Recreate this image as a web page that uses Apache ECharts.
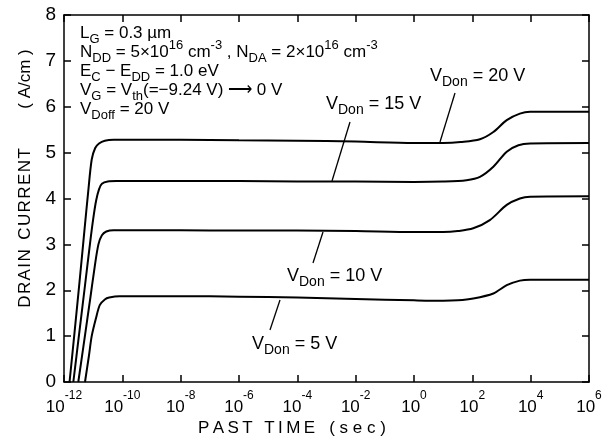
<!DOCTYPE html>
<html>
<head>
<meta charset="utf-8">
<script src="https://cdn.jsdelivr.net/npm/echarts@6/dist/echarts.min.js"></script>
<style>
  html, body { margin: 0; background: #fff; }
  #chart { width: 613px; height: 447px; }
</style>
</head>
<body>
<div id="chart"></div>
<script>
// x = log10(past time / s), y = drain current (A/cm)
const t5  = [-11.28, -11.15, -11.05, -10.9, -10.77, -10.6, -10.45, -10.1, -8, -6, -4, -2, 0, 1, 1.5, 2.03, 2.72, 3.18, 3.63, 3.98, 6]
const i5  = [0, 0.55, 1.0, 1.4, 1.68, 1.8, 1.84, 1.87, 1.87, 1.86, 1.84, 1.81, 1.78, 1.77, 1.78, 1.82, 1.93, 2.11, 2.21, 2.23, 2.23]
const t10 = [-11.51, -11.3, -11.1, -10.95, -10.82, -10.7, -10.55, -10.3, -10, -8, -6, -4, -2, 0, 1, 1.5, 2.03, 2.6, 3.18, 3.63, 3.98, 6]
const i10 = [0, 0.93, 1.82, 2.5, 3.0, 3.2, 3.28, 3.31, 3.31, 3.31, 3.3, 3.3, 3.29, 3.27, 3.27, 3.29, 3.35, 3.53, 3.86, 4.0, 4.04, 4.05]
const t15 = [-11.68, -11.5, -11.3, -11.1, -11.0, -10.9, -10.8, -10.7, -10.5, -10.2, -8, -6, -4, -2, 0, 1, 1.8, 2.26, 2.72, 3.18, 3.58, 3.98, 6]
const i15 = [0, 0.95, 2.0, 3.06, 3.55, 3.95, 4.2, 4.32, 4.37, 4.38, 4.38, 4.38, 4.37, 4.37, 4.36, 4.37, 4.4, 4.47, 4.69, 5.02, 5.16, 5.2, 5.21]
const t20 = [-11.81, -11.62, -11.45, -11.3, -11.17, -11.05, -10.93, -10.8, -10.6, -10.3, -8, -6, -4, -2, 0, 1, 1.6, 2.26, 2.72, 3.18, 3.63, 3.98, 6]
const i20 = [0, 1.2, 2.3, 3.3, 4.15, 4.85, 5.1, 5.2, 5.26, 5.28, 5.28, 5.27, 5.26, 5.24, 5.21, 5.21, 5.23, 5.29, 5.45, 5.71, 5.85, 5.89, 5.89]

const xTicks = [-12, -10, -8, -6, -4, -2, 0, 2, 4, 6]
const yTicks = [0, 1, 2, 3, 4, 5, 6, 7, 8]

const FONT = 'Liberation Sans'
const zip = (a, b) => a.map((v, k) => [v, b[k]])

const chart = echarts.init(document.getElementById('chart'))

function richSet(big, small) {
  return {
    n: { fontSize: big, fontFamily: FONT, color: '#000', lineHeight: 26, verticalAlign: 'middle' },
    sub: { fontSize: small, fontFamily: FONT, color: '#000', lineHeight: 26, verticalAlign: 'bottom' },
    sup: { fontSize: small, fontFamily: FONT, color: '#000', lineHeight: 26, verticalAlign: 'top' }
  }
}
const richBlock = richSet(17, 13)
const richLbl = richSet(18, 14)

function txt(x, y, s, rich) {
  return {
    type: 'text', x: x, y: y, z: 10,
    style: { text: s, rich: rich || richBlock, verticalAlign: 'middle', align: 'left', font: '17px ' + FONT, fill: '#000' }
  }
}
function lead(x1, y1, x2, y2) {
  return { type: 'line', z: 10, shape: { x1, y1, x2, y2 }, style: { stroke: '#000', lineWidth: 1.3 } }
}

function curve(name, t, i) {
  return {
    name, type: 'line', data: zip(t, i), showSymbol: false,
    smooth: 0.3,
    lineStyle: { color: '#000', width: 2 }
  }
}

const axisBase = {
  type: 'value', splitLine: { show: false },
  axisLine: { onZero: false, lineStyle: { color: '#000', width: 1.5 } },
  axisTick: { inside: true, length: 7, lineStyle: { color: '#000', width: 1.5 } }
}

chart.setOption({
  animation: false,
  backgroundColor: '#fff',
  grid: { left: 64, right: 24, top: 15, bottom: 65 },
  xAxis: [
    Object.assign({}, axisBase, {
      position: 'bottom', min: xTicks[0], max: xTicks[xTicks.length - 1], interval: 2,
      axisLabel: {
        margin: 8,
        formatter: v => '{b|10}{s|' + v + '}',
        rich: {
          b: { fontSize: 17, fontFamily: FONT, color: '#000', lineHeight: 26, verticalAlign: 'bottom' },
          s: { fontSize: 12, fontFamily: FONT, color: '#000', lineHeight: 26, verticalAlign: 'top' }
        }
      }
    }),
    Object.assign({}, axisBase, {
      position: 'top', min: xTicks[0], max: xTicks[xTicks.length - 1], interval: 2,
      axisLabel: { show: false }
    })
  ],
  yAxis: [
    Object.assign({}, axisBase, {
      position: 'left', min: yTicks[0], max: yTicks[yTicks.length - 1], interval: 1,
      axisLabel: { margin: 8, fontSize: 19, fontFamily: FONT, color: '#000' }
    }),
    Object.assign({}, axisBase, {
      position: 'right', min: yTicks[0], max: yTicks[yTicks.length - 1], interval: 1,
      axisLabel: { show: false }
    })
  ],
  series: [
    curve('5 V', t5, i5),
    curve('10 V', t10, i10),
    curve('15 V', t15, i15),
    curve('20 V', t20, i20)
  ],
  graphic: [
    // axis titles
    { type: 'text', x: 292, y: 428, z: 10,
      style: { text: 'P\u2009A\u2009S\u2009T\u2009 \u2009T\u2009I\u2009M\u2009E   ( s e c )', font: '17px ' + FONT, fill: '#000', align: 'center', verticalAlign: 'middle' } },
    { type: 'text', x: 25, y: 228, rotation: Math.PI / 2, z: 10,
      style: { text: 'D\u200aR\u200aA\u200aI\u200aN  C\u200aU\u200aR\u200aR\u200aE\u200aN\u200aT', font: '17px ' + FONT, fill: '#000', align: 'center', verticalAlign: 'middle' } },
    { type: 'text', x: 25, y: 79, rotation: Math.PI / 2, z: 10,
      style: { text: '( A/cm )', font: '17px ' + FONT, fill: '#000', align: 'center', verticalAlign: 'middle' } },
    // parameter block
    txt(80, 33, '{n|L}{sub|G}{n| = 0.3 \u00b5m}'),
    txt(80, 52, '{n|N}{sub|DD}{n| = 5\u00d710}{sup|16}{n| cm}{sup|-3}{n| , N}{sub|DA}{n| = 2\u00d710}{sup|16}{n| cm}{sup|-3}'),
    txt(80, 71, '{n|E}{sub|C}{n| \u2212 E}{sub|DD}{n| = 1.0 eV}'),
    txt(80, 90, '{n|V}{sub|G}{n| = V}{sub|th}{n|(=\u22129.24 V) \u27f6 0 V}'),
    txt(80, 109, '{n|V}{sub|Doff}{n| = 20 V}'),
    // curve labels with leader lines
    txt(430, 76, '{n|V}{sub|Don}{n| = 20 V}', richLbl),
    lead(455, 93, 440, 142),
    txt(326, 104, '{n|V}{sub|Don}{n| = 15 V}', richLbl),
    lead(350, 122, 332, 181),
    txt(287, 276, '{n|V}{sub|Don}{n| = 10 V}', richLbl),
    lead(323, 232, 313, 263),
    txt(252, 344, '{n|V}{sub|Don}{n| = 5 V}', richLbl),
    lead(280, 300, 270, 330)
  ]
})
</script>
</body>
</html>
